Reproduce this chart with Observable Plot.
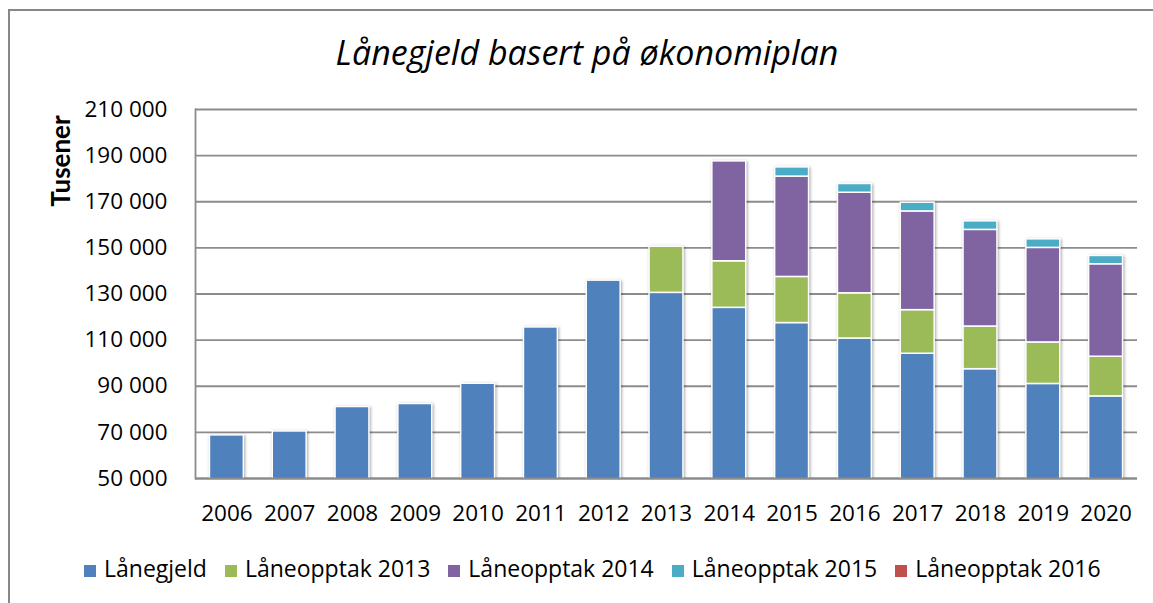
<!DOCTYPE html>
<html>
<head>
<meta charset="utf-8">
<script src="https://cdn.jsdelivr.net/npm/d3@7"></script>
<script src="https://cdn.jsdelivr.net/npm/@observablehq/plot@0.6"></script>
<style>
  body { margin: 0; background: #fff; }
  #wrap { position: relative; width: 1153px; height: 603px; overflow: hidden; background: #fff; font-family: "Open Sans", sans-serif; color: #000; }
  #frame { position: absolute; left: 8px; top: 9px; width: 2000px; height: 2000px; border-top: 2px solid #878787; border-left: 2px solid #878787; box-sizing: border-box; }
  #title { position: absolute; left: 0; top: 35px; width: 1174px; text-align: center; font-style: italic; font-size: 34px; line-height: 34px; white-space: nowrap; }
  #ylabel { position: absolute; left: 60px; top: 161px; transform: translate(-50%, -50%) rotate(-90deg); font-family: Lato, sans-serif; font-weight: bold; font-size: 26px; line-height: 26px; white-space: nowrap; }
  #chart { position: absolute; left: 0; top: 0; }
  #legend { position: absolute; left: 84px; top: 554px; display: flex; align-items: baseline; font-size: 23px; line-height: 28px; white-space: nowrap; }
  .item { display: flex; align-items: baseline; margin-right: 18px; }
  .sw { display: inline-block; width: 12px; height: 12px; margin-right: 8px; }
  g[aria-label="bar"] { filter: drop-shadow(1.5px 1.5px 1.5px rgba(0,0,0,0.35)); }
</style>
</head>
<body>
<div id="wrap">
  <div id="frame"></div>
  <div id="title"></div>
  <div id="ylabel"></div>
  <div id="chart"></div>
  <div id="legend"></div>
</div>
<script>
const titleText = "Lånegjeld basert på økonomiplan";
const yLabel = "Tusener";
const years = ["2006","2007","2008","2009","2010","2011","2012","2013","2014","2015","2016","2017","2018","2019","2020"];
const laanegjeld  = [68700, 70400, 81000, 82300, 91100, 115500, 135800, 130500, 124000, 117400, 110700, 104100, 97400, 91000, 85600];
const opptak2013  = [0, 0, 0, 0, 0, 0, 0, 20000, 20200, 20000, 19600, 18900, 18500, 18000, 17200];
const opptak2014  = [0, 0, 0, 0, 0, 0, 0, 0, 43300, 43500, 43600, 42800, 41900, 41000, 40100];
const opptak2015  = [0, 0, 0, 0, 0, 0, 0, 0, 0, 4000, 3800, 3800, 3700, 3700, 3600];
const opptak2016  = [0, 0, 0, 0, 0, 0, 0, 0, 0, 0, 0, 0, 0, 0, 0];
const seriesNames = ["Lånegjeld", "Låneopptak 2013", "Låneopptak 2014", "Låneopptak 2015", "Låneopptak 2016"];
const seriesColors = ["#4F81BD", "#9BBB59", "#8064A2", "#4BACC6", "#C0504D"];
const yTicks = [50000, 70000, 90000, 110000, 130000, 150000, 170000, 190000, 210000];

const seriesValues = [laanegjeld, opptak2013, opptak2014, opptak2015, opptak2016];
const rows = [];
years.forEach((year, i) => {
  seriesNames.forEach((s, j) => {
    const v = seriesValues[j][i];
    if (v > 0) rows.push({year, series: s, value: v});
  });
});

const fmt = d => d3.format(",")(d).replace(/,/g, " ");

const chart = Plot.plot({
  width: 1153,
  height: 603,
  marginLeft: 195,
  marginRight: 16,
  marginTop: 109,
  marginBottom: 125,
  style: {fontFamily: "Open Sans, sans-serif", fontSize: "22.5px", color: "#000", background: "transparent", overflow: "visible"},
  x: {domain: years, paddingInner: 0.46, paddingOuter: 0.23, round: false, label: null},
  y: {domain: [50000, 210000], label: null},
  color: {domain: seriesNames, range: seriesColors},
  marks: [
    Plot.ruleY(yTicks, {stroke: "#8c8c8c", strokeWidth: 1.8}),
    Plot.barY(rows, {x: "year", y: "value", fill: "series", stroke: "white", strokeWidth: 1.5, clip: true}),
    Plot.ruleY([yTicks[0]], {stroke: "#8c8c8c", strokeWidth: 1.8}),
    Plot.frame({anchor: "left", stroke: "#8c8c8c", strokeWidth: 1.8}),
    Plot.axisX({tickSize: 0, tickPadding: 27, fontSize: 22.5, label: null}),
    Plot.axisY({ticks: yTicks, tickSize: 0, tickPadding: 28, fontSize: 22.5, tickFormat: fmt, label: null})
  ]
});
document.getElementById("chart").appendChild(chart);
document.getElementById("title").textContent = titleText;
document.getElementById("ylabel").textContent = yLabel;

const legend = document.getElementById("legend");
seriesNames.forEach((s, i) => {
  const item = document.createElement("div");
  item.className = "item";
  const sw = document.createElement("span");
  sw.className = "sw";
  sw.style.background = seriesColors[i];
  const t = document.createElement("span");
  t.textContent = s;
  item.appendChild(sw);
  item.appendChild(t);
  legend.appendChild(item);
});
</script>
</body>
</html>
